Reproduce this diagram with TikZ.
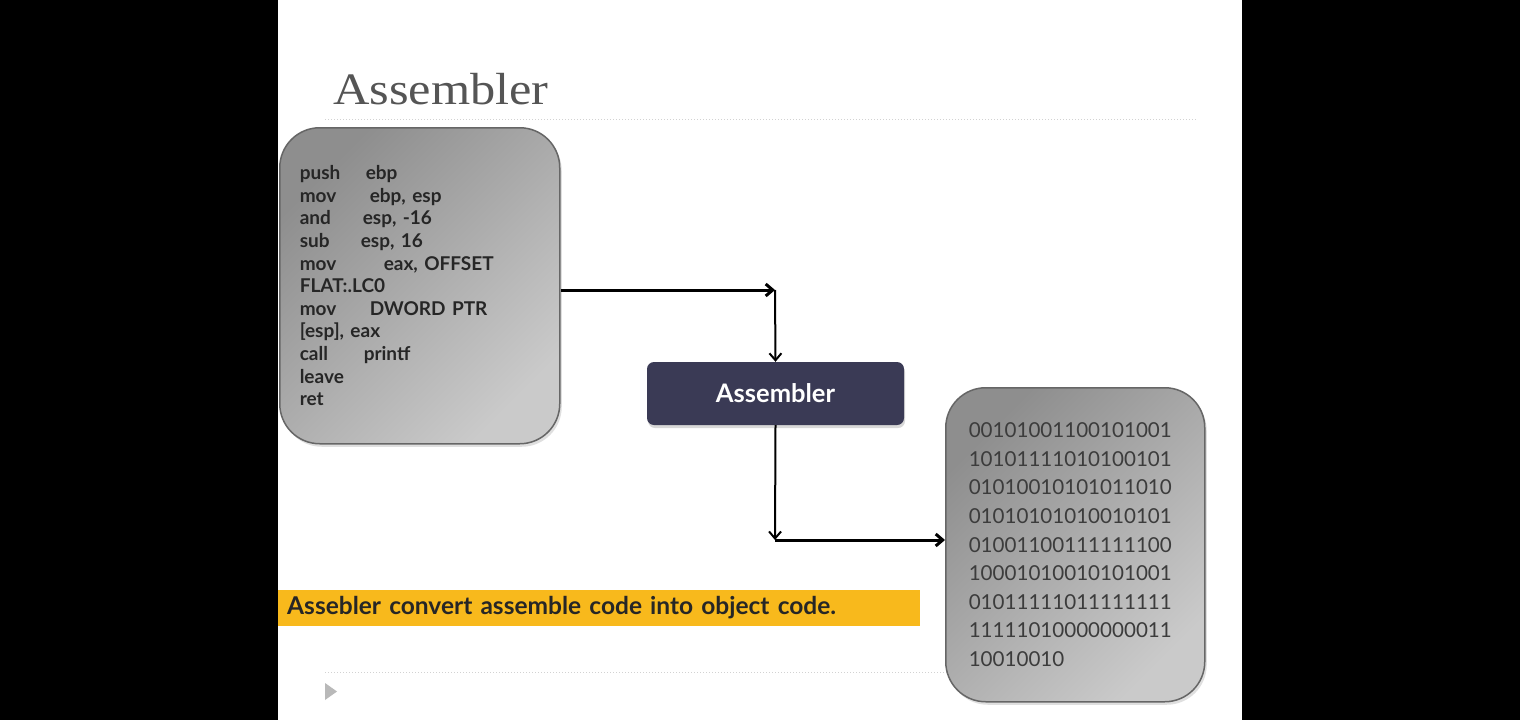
\documentclass[tikz,border=0pt]{standalone}
\usepackage{fontspec}
\setsansfont{Lato}
\newfontfamily\titulofonte{Liberation Serif}
\usepackage{xcolor}
\usetikzlibrary{shapes, positioning, arrows.meta, shadows}

\definecolor{cinzaescuro}{HTML}{8E8E8E}
\definecolor{cinzaclaro}{HTML}{CACACA}
\definecolor{bordacaixa}{HTML}{666666}
\definecolor{azulcaixa}{HTML}{3A3A55}
\definecolor{amarelo}{HTML}{F8B91C}
\definecolor{textoescuro}{HTML}{262626}
\definecolor{titulocor}{HTML}{555555}

\tikzset{
	caixa/.style={draw=bordacaixa, line width=1.5pt, rounded corners=40pt,
		top color=cinzaescuro, bottom color=cinzaclaro, shading angle=45,
		drop shadow={opacity=0.25, shadow xshift=2pt, shadow yshift=-3pt}},
	montador/.style={fill=azulcaixa, rounded corners=7pt, text=white,
		minimum width=257, minimum height=63,
		font=\sffamily\bfseries\fontsize{25.5}{28}\selectfont,
		drop shadow={opacity=0.3, shadow xshift=1pt, shadow yshift=-3pt}},
	seta grossa/.style={->, line width=3pt},
	seta fina/.style={->, line width=2pt},
	linha/.style={draw=gray!35, line width=1pt, dotted}
}

\begin{document}
\begin{tikzpicture}[x=1pt, y=-1pt, > = {Straight Barb[length=7pt, width=12pt]}]
	\useasboundingbox (0,0) rectangle (1520,720);
	% fundo
	\fill[black] (0,0) rectangle (1520,720);
	\fill[white] (278,0) rectangle (1242,720);
	
	% titulo
	\node[anchor=base west, inner sep=0, text=titulocor,
		font=\titulofonte\fontsize{45}{50}\selectfont] (titulo) at (333,104)
		{\scalebox{1.12}[1]{Assembler}};
	\draw[linha] (325,119) -- (1197,119);
	\draw[linha] (325,672) -- (1197,672);
	\fill[gray!55] (325,683) -- (337,691.5) -- (325,700) -- cycle;
	
	% codigo assembly
	\node[caixa, anchor=north west, minimum height=316, text width=240,
		inner xsep=20, align=left, text=textoescuro,
		font=\sffamily\bfseries\fontsize{19}{22.6}\selectfont] (codigo) at (279,127)
		{\makebox[66pt][l]{push}ebp\\
		 \makebox[70pt][l]{mov}ebp, esp\\
		 \makebox[63pt][l]{and}esp, -16\\
		 \makebox[61pt][l]{sub}esp, 16\\
		 \makebox[84pt][l]{mov}eax, OFFSET\\
		 FLAT:.LC0\\
		 \makebox[70pt][l]{mov}DWORD PTR\\
		 {[esp]}, eax\\
		 \makebox[64pt][l]{call}printf\\
		 leave\\
		 ret};
	
	% montador
	\node[montador] (assembler) at (775.5,393.5) {Assembler};
	
	% codigo objeto
	\node[caixa, anchor=north west, minimum height=314, text width=213,
		inner xsep=23, align=left, text=textoescuro!90,
		font=\sffamily\fontsize{20.6}{28.6}\selectfont] (binario) at (945,387)
		{00101001100101001\\
		 10101111010100101\\
		 01010010101011010\\
		 01010101010010101\\
		 01001100111111100\\
		 10001010010101001\\
		 01011111011111111\\
		 11111010000000011\\
		 10010010};
	
	% setas
	\coordinate (canto1) at (775,290);
	\coordinate (canto2) at (775,540);
	\draw[seta grossa] (codigo.east |- canto1) -- (canto1);
	\draw[seta fina] (canto1) -- (assembler.north);
	\draw[seta fina] (assembler.south) -- (canto2);
	\draw[seta grossa] (canto2) -- (binario.west |- canto2);
	
	% faixa de legenda
	\node[fill=amarelo, anchor=west, minimum height=36, text width=624,
		inner xsep=9, align=left, text=textoescuro,
		font=\sffamily\bfseries\fontsize{24.5}{27}\selectfont] (legenda) at (278,608)
		{Assebler convert assemble code into object code.};
\end{tikzpicture}
\end{document}
